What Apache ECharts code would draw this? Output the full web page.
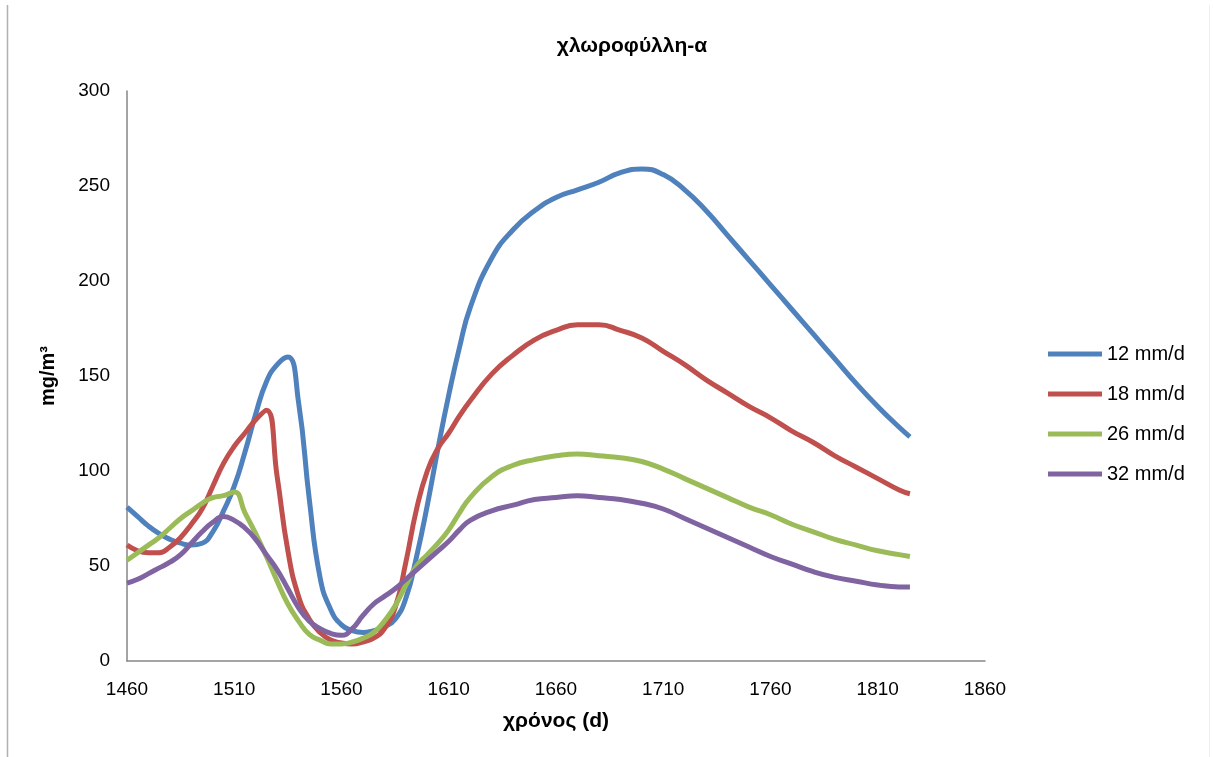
<!DOCTYPE html>
<html>
<head>
<meta charset="utf-8">
<script src="https://cdn.jsdelivr.net/npm/echarts@6/dist/echarts.min.js"></script>
<style>html,body{margin:0;padding:0;background:#fff;}#c{width:1213px;height:757px;}</style>
</head>
<body>
<div id="c"></div>
<script>
const seriesNames = ['12 mm/d', '18 mm/d', '26 mm/d', '32 mm/d'];
const xTicks = [1460, 1510, 1560, 1610, 1660, 1710, 1760, 1810, 1860];
const yTicks = [0, 50, 100, 150, 200, 250, 300];

// sample days
const days = [
  1460, 1465, 1470, 1475, 1480, 1485, 1490, 1495, 1500, 1505, 1510, 1515, 1520, 1525, 1530, 1535, 1540,
  1545, 1550, 1555, 1560, 1565, 1570, 1575, 1580, 1585, 1590, 1595, 1600, 1605, 1610, 1615, 1620,
  1630, 1640, 1650, 1660, 1670, 1680, 1690, 1700, 1710, 1720, 1730, 1740, 1750, 1760, 1770, 1780,
  1790, 1800, 1810, 1820, 1825
];
const vals12 = [
  81, 76, 71, 67, 64, 62, 61, 62, 68, 79, 92, 110, 130, 147, 156, 160, 136,
  85, 44, 27, 19, 16, 15, 16, 18, 22, 33, 55, 82, 112, 140, 165, 186,
  212, 227, 237, 244, 248, 252, 257, 259, 256, 248, 237, 224, 211, 198, 185, 172,
  159, 146, 134, 123, 118
];
const vals18 = [
  61, 58, 57, 57, 60, 65, 72, 80, 92, 104, 113, 120, 127, 132, 97, 58, 34,
  22, 15, 11, 9.5, 9, 10, 12, 17, 28, 52, 80, 100, 112, 120, 129, 137,
  151, 161, 169, 174, 177, 177, 174, 170, 163, 156, 148, 141, 134, 128, 121, 115,
  108, 102, 96, 90, 88
];
const vals26 = [
  53, 57, 61, 65, 70, 75, 79, 83, 86, 87, 89, 78, 67, 55, 42, 30, 21,
  14, 11, 9, 9, 10, 12, 15, 21, 29, 40, 50, 56, 62, 69, 78, 86,
  97, 103, 106, 108, 109, 108, 107, 105, 101, 96, 91, 86, 81, 77, 72, 68,
  64, 61, 58, 56, 55
];
const vals32 = [
  41, 43, 46, 49, 52, 56, 62, 68, 73, 76, 74, 70, 64, 56, 48, 38, 28,
  21, 17, 14.5, 13.5, 17, 24, 30, 34, 38, 43, 48, 53, 58, 63, 69, 74,
  79, 82, 85, 86, 87, 86, 85, 83, 80, 75, 70, 65, 60, 55, 51, 47,
  44, 42, 40, 39, 39
];

const colors = ['#4f81bd', '#c0504d', '#9bbb59', '#8064a2'];

const zip = (xs, ys) => xs.map((x, i) => [x, ys[i]]);
const allData = [zip(days, vals12), zip(days, vals18), zip(days, vals26), zip(days, vals32)];

const chart = echarts.init(document.getElementById('c'), null, {renderer: 'canvas'});
const font = 'Liberation Sans, Arial, sans-serif';
chart.setOption({
  animation: false,
  backgroundColor: '#fff',
  color: colors,
  title: {
    text: 'χλωροφύλλη-α',
    left: 627, top: 31, textAlign: 'center',
    textStyle: {fontFamily: font, fontSize: 21, fontWeight: 'bold', color: '#000'}
  },
  grid: {left: 127, right: 228, top: 91, bottom: 96, containLabel: false},
  legend: {
    orient: 'vertical', left: 1043, top: 339,
    itemWidth: 54, itemHeight: 5, itemGap: 20,
    icon: 'rect',
    data: seriesNames,
    textStyle: {fontFamily: font, fontSize: 20, color: '#000'}
  },
  xAxis: {
    type: 'value', min: xTicks[0], max: xTicks[xTicks.length - 1], interval: 50,
    name: 'χρόνος (d)', nameLocation: 'middle', nameGap: 50,
    nameTextStyle: {fontFamily: font, fontSize: 21, fontWeight: 'bold', color: '#000'},
    axisLine: {show: true, lineStyle: {color: '#868686', width: 1.5}},
    axisTick: {show: false},
    splitLine: {show: false},
    axisLabel: {fontFamily: font, fontSize: 19, color: '#000', margin: 19, formatter: v => String(v)}
  },
  yAxis: {
    type: 'value', min: yTicks[0], max: yTicks[yTicks.length - 1], interval: 50,
    name: 'mg/m³', nameLocation: 'middle', nameGap: 69, nameRotate: 90,
    nameTextStyle: {fontFamily: font, fontSize: 20, fontWeight: 'bold', color: '#000'},
    axisLine: {show: true, lineStyle: {color: '#868686', width: 1.5}},
    axisTick: {show: false},
    splitLine: {show: false},
    axisLabel: {fontFamily: font, fontSize: 19, color: '#000', margin: 17, formatter: v => String(v)}
  },
  graphic: [
    {type: 'line', shape: {x1: 7.5, y1: 5, x2: 7.5, y2: 757}, style: {stroke: '#b0b0b0', lineWidth: 1.5}},
    {type: 'line', shape: {x1: 1209.5, y1: 5, x2: 1209.5, y2: 757}, style: {stroke: '#f0f0f0', lineWidth: 1}}
  ],
  series: seriesNames.map((n, i) => ({
    name: n, type: 'line', data: allData[i], smooth: 0.5, showSymbol: false, symbol: 'none',
    lineStyle: {width: 5, color: colors[i]}, itemStyle: {color: colors[i]}
  }))
});
</script>
</body>
</html>
